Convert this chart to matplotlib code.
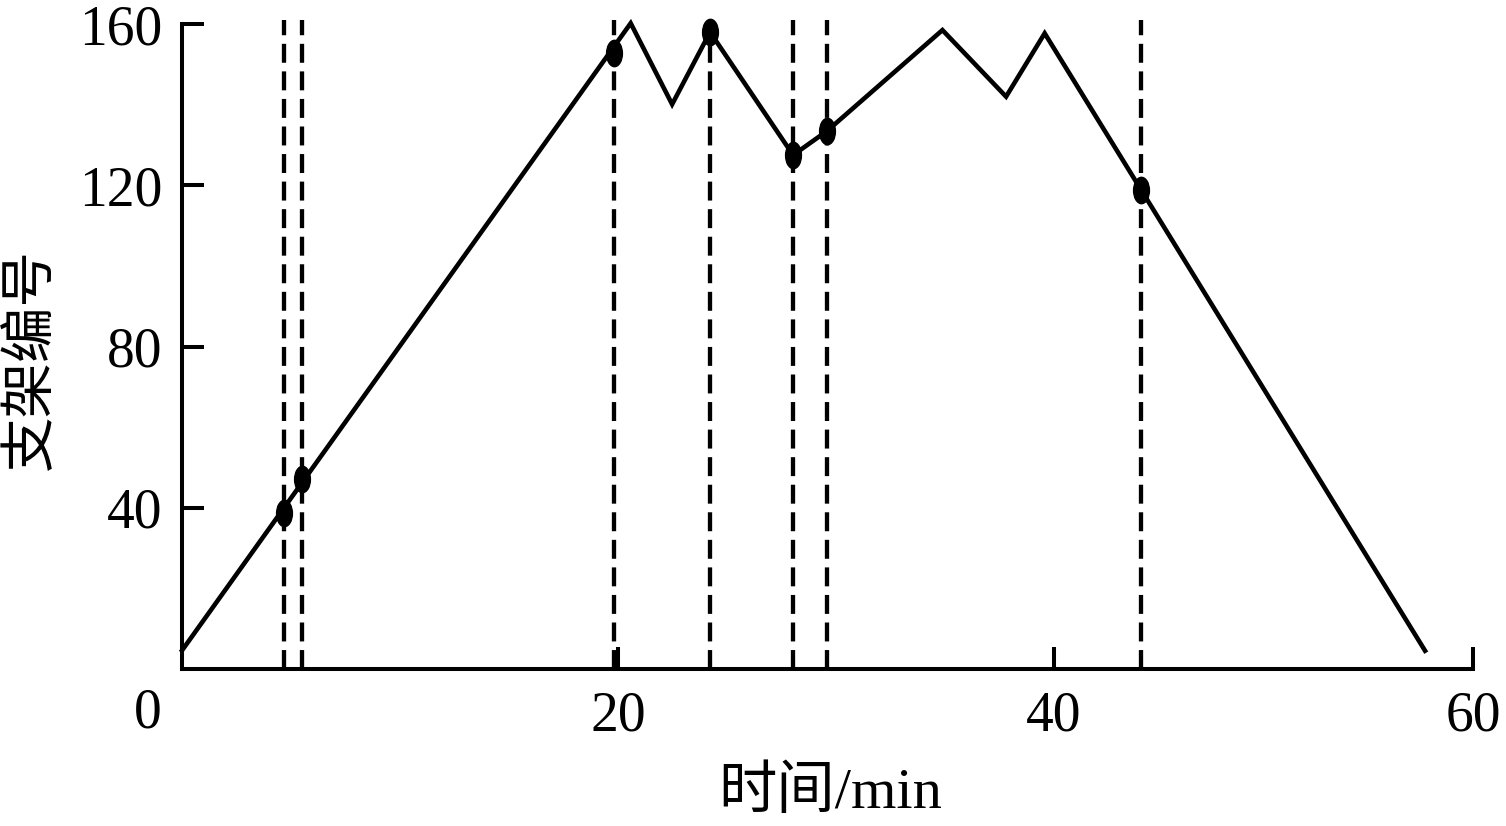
import matplotlib
matplotlib.use("Agg")
import matplotlib.pyplot as plt
from matplotlib.path import Path
from matplotlib.transforms import Affine2D, offset_copy

plt.rcParams['font.family'] = ['Liberation Serif', 'Noto Sans CJK SC', 'DejaVu Sans']

# polyline: time (min) vs support number
line_t = [0, 20.58, 22.48, 24.22, 28.03, 29.59, 34.88, 37.8, 39.57, 57.02]
line_n = [4.7, 160.2, 140.1, 158.0, 127.5, 133.5, 158.5, 142.0, 157.7, 4.6]

# marked events (dashed verticals + dots)
event_t = [4.68, 5.50, 19.82, 24.22, 28.03, 29.59, 43.99]
event_n = [38.8, 47.2, 152.8, 158.0, 127.5, 133.5, 118.8]

xtick_pos = [20, 40, 59.22]
xtick_lab = ["20", "40", "60"]
ytick_pos = [40, 80, 120, 160]
ytick_lab = ["40", "80", "120", "160"]

fig = plt.figure(figsize=(15.06, 8.26), dpi=100)
ax = fig.add_axes([0.1209, 0.1897, 0.9781 - 0.1209, 0.9709 - 0.1897])
ax.set_xlim(0, 59.22)
ax.set_ylim(0, 160)

for s in ['top', 'right']:
    ax.spines[s].set_visible(False)
for s in ['left', 'bottom']:
    ax.spines[s].set_linewidth(2.9)

# dashed verticals
for t in event_t:
    ax.plot([t, t], [0, 161], color='black', lw=3.1,
            linestyle=(0, (4.4, 2.0)), dash_capstyle='butt', clip_on=False, zorder=2)

ax.plot(line_t, line_n, color='black', lw=3.3, clip_on=False, zorder=3,
        solid_joinstyle='miter')

ell = Path.unit_circle().transformed(Affine2D().scale(0.6, 1.0))
ax.plot(event_t, event_n, linestyle='none', marker=ell, markersize=19,
        color='black', clip_on=False, zorder=4)

ax.set_xticks(xtick_pos)
ax.set_xticklabels(xtick_lab)
ax.set_yticks(ytick_pos)
ax.set_yticklabels(ytick_lab)
ax.tick_params(axis='both', direction='in', length=16, width=2.9, labelsize=40)
ax.tick_params(axis='x', pad=15)
ax.tick_params(axis='y', pad=14)

# origin label
tr = offset_copy(ax.transData, fig=fig, x=-20, y=-44, units='dots')
ax.text(0, 0, "0", transform=tr, ha='right', va='center', fontsize=40)

fig.text(830 / 1506, 1 - 793 / 826, "时间/min", ha='center', va='center', fontsize=42)
fig.text(32 / 1506, 1 - 360 / 826, "支架编号", ha='center', va='center', fontsize=40,
         rotation=90)

fig.savefig("out.png", dpi=100)
